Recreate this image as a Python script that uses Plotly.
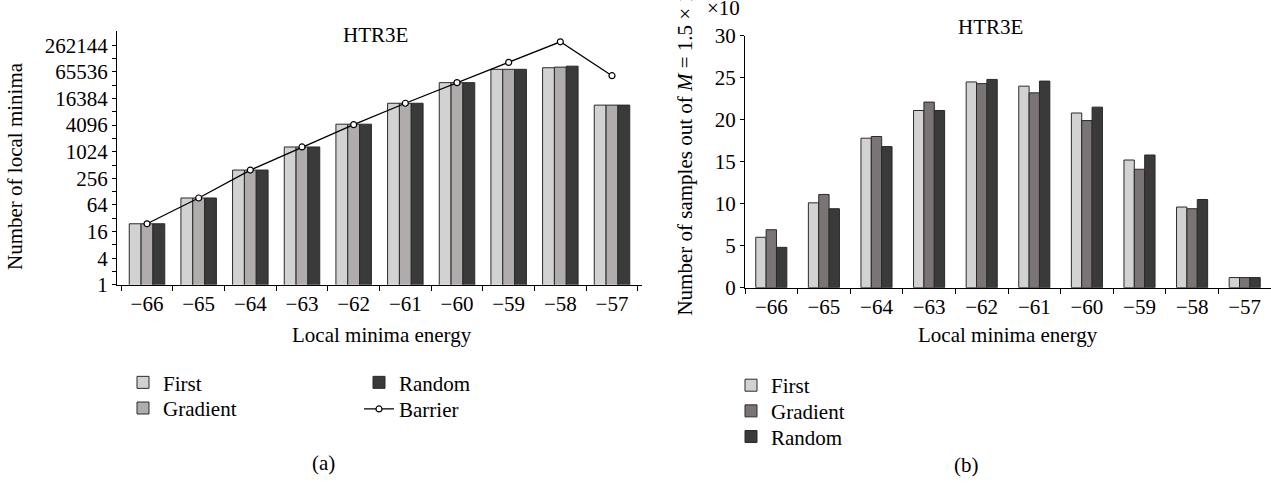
import plotly.graph_objects as go

W, H = 1271, 485

categories = ["\u221266", "\u221265", "\u221264", "\u221263", "\u221262",
              "\u221261", "\u221260", "\u221259", "\u221258", "\u221257"]

# (a) number of local minima (log2 scale)
a_first = [24, 92, 394, 1312, 4300, 12780, 37400, 74900, 81300, 11600]
a_gradient = [24, 92, 394, 1312, 4300, 12780, 37400, 74900, 84000, 11600]
a_random = [24, 92, 394, 1312, 4300, 12780, 37400, 74900, 88300, 11600]
a_barrier = [24, 92, 394, 1312, 4200, 12780, 37400, 107400, 314000, 53700]
a_ticks = [1, 4, 16, 64, 256, 1024, 4096, 16384, 65536, 262144]
a_minor = [2, 8, 32, 128, 512, 2048, 8192, 32768, 131072]

# (b) number of samples
b_first = [6.0, 10.1, 17.8, 21.1, 24.5, 24.0, 20.8, 15.2, 9.6, 1.2]
b_gradient = [6.9, 11.1, 18.0, 22.1, 24.3, 23.2, 19.9, 14.1, 9.4, 1.2]
b_random = [4.8, 9.4, 16.8, 21.1, 24.8, 24.6, 21.5, 15.8, 10.5, 1.2]
b_ticks = [0, 5, 10, 15, 20, 25, 30]

FONT = "Liberation Serif"
FS = 21
LFS = 21
C_FIRST = "#d2d2d2"
C_GRAD_A = "#b0acac"
C_GRAD_B = "#7a7474"
C_RAND = "#3a3a3a"
EDGE = "#2a2a2a"


def px(x):
    return x / W


def py(y):
    return 1 - y / H


fig = go.Figure()

# Left chart: bar width / offsets in category units
wa = 0.229
for name, vals, col, off, lg in [("First", a_first, C_FIRST, -1.5 * wa, "legend"),
                                 ("Gradient", a_gradient, C_GRAD_A, -0.5 * wa, "legend2"),
                                 ("Random", a_random, C_RAND, 0.5 * wa, "legend3")]:
    fig.add_trace(go.Bar(x=categories, y=vals, name=name, width=wa, offset=off, showlegend=True,
                         marker=dict(color=col, line=dict(color=EDGE, width=1)),
                         xaxis="x", yaxis="y", legend=lg))
fig.add_trace(go.Scatter(x=categories, y=a_barrier, name="Barrier", mode="lines+markers", showlegend=True,
                         line=dict(color="black", width=1.3),
                         marker=dict(symbol="circle", size=6, color="white", line=dict(color="black", width=1.2)),
                         xaxis="x", yaxis="y", legend="legend4"))

# Right chart
wb = 0.197
for name, vals, col, off, lg in [("First", b_first, C_FIRST, -1.5 * wb, "legend5"),
                                 ("Gradient", b_gradient, C_GRAD_B, -0.5 * wb, "legend6"),
                                 ("Random", b_random, C_RAND, 0.5 * wb, "legend7")]:
    fig.add_trace(go.Bar(x=categories, y=vals, name=name, width=wb, offset=off, showlegend=True,
                         marker=dict(color=col, line=dict(color=EDGE, width=1)),
                         xaxis="x2", yaxis="y2", legend=lg))

axis_common = dict(showline=True, linecolor="black", linewidth=1.3, showgrid=False, zeroline=False,
                   ticks="outside", tickcolor="black", tickwidth=1,
                   tickfont=dict(family=FONT, size=FS, color="black"))


def leg(x, y):
    return dict(x=px(x), y=py(y), xanchor="left", yanchor="middle", bgcolor="rgba(0,0,0,0)",
                font=dict(family=FONT, size=LFS, color="black"), visible=True)


fig.update_layout(
    width=W, height=H,
    margin=dict(l=0, r=0, t=0, b=0),
    paper_bgcolor="white", plot_bgcolor="white",
    font=dict(family=FONT, size=FS, color="black"),
    barmode="overlay",
    showlegend=True,
    xaxis=dict(domain=[px(117), px(642)], anchor="y", type="category", tickson="boundaries", ticklen=5,
               **axis_common),
    yaxis=dict(domain=[py(287), py(20)], anchor="x", type="log", range=[0, 5.741],
               tickvals=a_ticks, ticktext=[str(v) for v in a_ticks], ticklen=4,
               minor=dict(tickvals=a_minor, ticks="outside", ticklen=4, tickcolor="black"),
               **axis_common),
    xaxis2=dict(domain=[px(745), 1.0], anchor="y2", type="category", tickson="boundaries", ticklen=5,
                **axis_common),
    yaxis2=dict(domain=[py(290), py(25)], anchor="x2", range=[0, 30], tickvals=b_ticks, ticklen=4,
                **axis_common),
    legend=leg(123, 390),
    legend2=leg(123, 417),
    legend3=leg(359, 390),
    legend4=leg(359, 418),
    legend5=leg(731, 393),
    legend6=leg(731, 420),
    legend7=leg(731, 447),
)

annotations = [
    dict(text="HTR3E", x=px(375), y=py(24), xanchor="center", yanchor="middle"),
    dict(text="HTR3E", x=px(990), y=py(16), xanchor="center", yanchor="middle"),
    dict(text="Local minima energy", x=px(382), y=py(340), xanchor="center", yanchor="middle"),
    dict(text="Local minima energy", x=px(1008), y=py(340), xanchor="center", yanchor="middle"),
    dict(text="Number of local minima", x=px(15), y=py(162), xanchor="center", yanchor="middle", textangle=-90),
    dict(text="Number of samples out of <i>M</i> = 1.5 \u00d7 10<sup>5</sup>", x=px(684), y=py(322),
         xanchor="center", yanchor="bottom", textangle=-90),
    dict(text="\u00d710", x=px(724), y=py(11), xanchor="center", yanchor="bottom"),
    dict(text="(a)", x=px(323), y=py(475), xanchor="center", yanchor="middle"),
    dict(text="(b)", x=px(966), y=py(477), xanchor="center", yanchor="middle"),
]
for a in annotations:
    a.update(xref="paper", yref="paper", showarrow=False, font=dict(family=FONT, size=FS, color="black"))
fig.update_layout(annotations=annotations)

fig.write_html(
    "out.html",
    config={"displayModeBar": False},
    post_script=(
        "document.documentElement.style.margin='0';"
        "document.documentElement.style.overflow='hidden';"
        "document.body.style.margin='0';document.body.style.overflow='hidden';"
    ),
)
